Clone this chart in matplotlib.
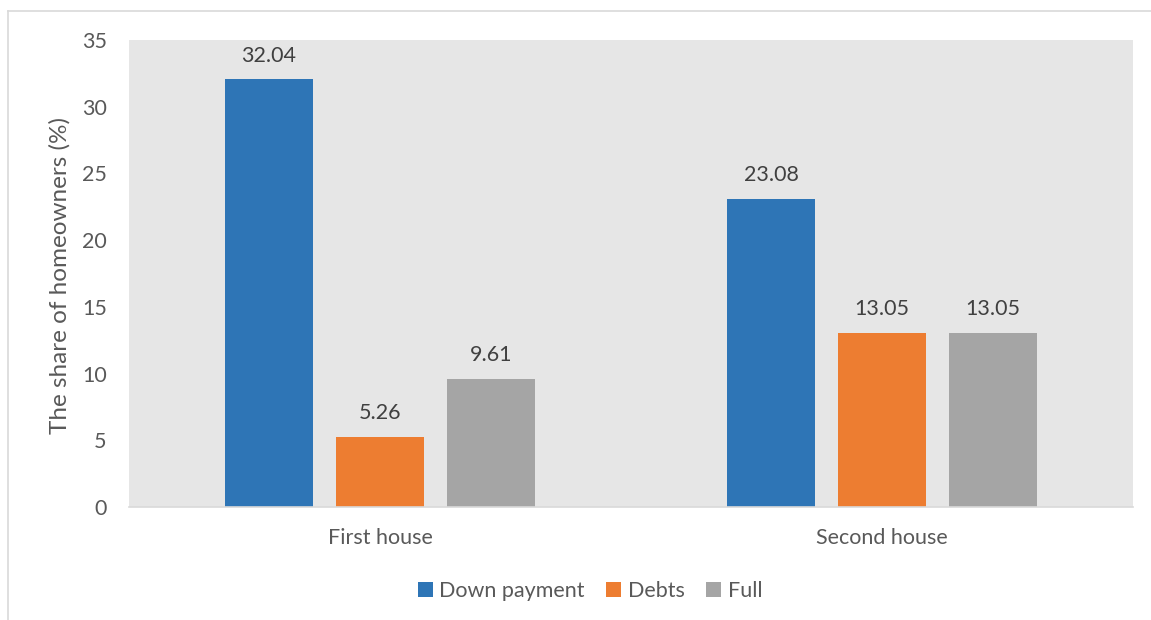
import matplotlib
matplotlib.use("Agg")
import matplotlib.pyplot as plt
import numpy as np

plt.rcParams['font.family'] = ['Lato', 'DejaVu Sans']

categories = ["First house", "Second house"]
series_names = ["Down payment", "Debts", "Full"]
down_payment = [32.04, 23.08]
debts = [5.26, 13.05]
full = [9.61, 13.05]
y_ticks = [0, 5, 10, 15, 20, 25, 30, 35]

colors = ["#2e75b6", "#ed7d31", "#a5a5a5"]
text_color = "#595959"

W, H = 1151, 620
fig = plt.figure(figsize=(W / 100, H / 100), dpi=100)
ax = fig.add_axes([129 / W, 1 - 507 / H, (1133 - 129) / W, (507 - 40) / H])
ax.set_facecolor("#e6e6e6")

x = np.arange(len(categories))
width = 88 / 502
step = 111 / 502
for i, (name, vals) in enumerate(zip(series_names, [down_payment, debts, full])):
    pos = x + (i - 1) * step
    bars = ax.bar(pos, vals, width=width, color=colors[i], label=name, zorder=2)
    for b, v in zip(bars, vals):
        ax.annotate(f"{v:.2f}", (b.get_x() + b.get_width() / 2, v),
                    xytext=(0, 10), textcoords="offset points",
                    ha="center", va="bottom", fontsize=15.5, color="#404040")

ax.set_xlim(-0.5, 1.5)
ax.set_ylim(0, 35)
ax.set_yticks(y_ticks)
ax.set_xticks(x)
ax.set_xticklabels(categories)
ax.tick_params(axis="both", length=0, labelsize=15.5, labelcolor=text_color)
ax.tick_params(axis="y", pad=16)
ax.tick_params(axis="x", pad=15)
for s in ["left", "right", "top"]:
    ax.spines[s].set_visible(False)
ax.spines["bottom"].set_color("#d9d9d9")
ax.spines["bottom"].set_linewidth(1.2)

fig.text(60 / W, 1 - 275 / H, "The share of homeowners (%)", rotation=90,
         ha="center", va="center", fontsize=17.5, color=text_color)

leg = ax.legend(loc="center", bbox_to_anchor=(590 / W, 1 - 591 / H),
                bbox_transform=fig.transFigure, ncol=3, frameon=False,
                fontsize=15.5, handlelength=0.7, handleheight=0.7, handletextpad=0.3,
                columnspacing=1.0)
for t in leg.get_texts():
    t.set_color(text_color)

# chart area border
fig.add_artist(plt.Line2D([8 / W, 8 / W], [0, 1 - 11 / H], color="#d9d9d9", lw=1.2,
                          transform=fig.transFigure))
fig.add_artist(plt.Line2D([8 / W, 1], [1 - 11 / H, 1 - 11 / H], color="#d9d9d9", lw=1.2,
                          transform=fig.transFigure))

fig.savefig("out.png", dpi=100, facecolor="white")
